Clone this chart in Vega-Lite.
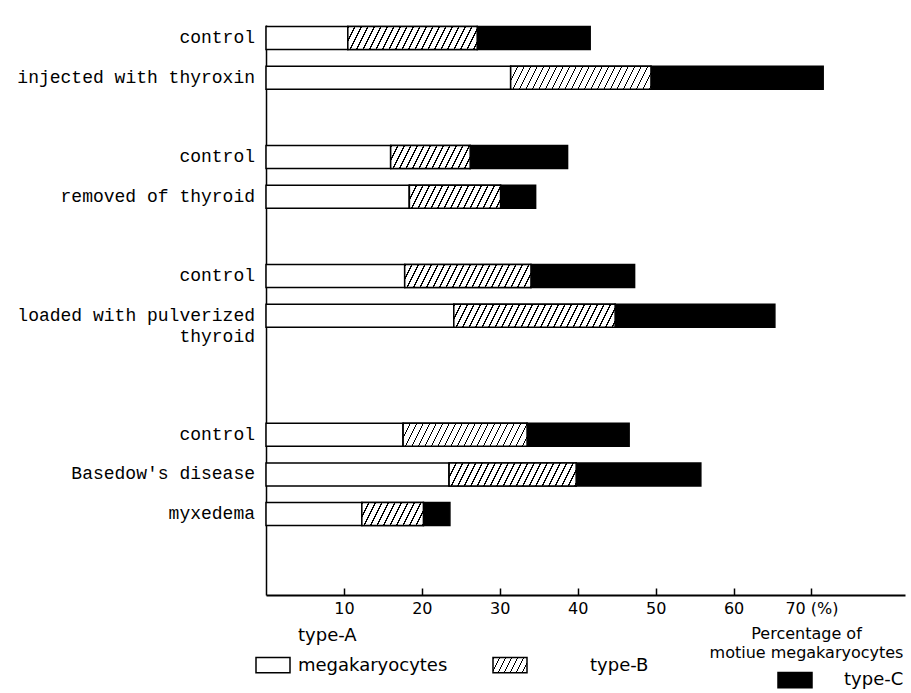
{
  "$schema": "https://vega.github.io/schema/vega-lite/v6.json",
  "width": 639,
  "height": 570,
  "autosize": {"type": "none"},
  "padding": {"left": 266, "top": 25, "right": 6, "bottom": 98},
  "background": "white",
  "config": {"view": {"stroke": null}, "font": "DejaVu Sans"},
  "params": [
    {"name": "hatch", "value": [
      {"offset": 0, "color": "black"}, {"offset": 0.006875, "color": "black"}, {"offset": 0.006875, "color": "white"}, {"offset": 0.03125, "color": "white"},
      {"offset": 0.03125, "color": "black"}, {"offset": 0.038125, "color": "black"}, {"offset": 0.038125, "color": "white"}, {"offset": 0.0625, "color": "white"},
      {"offset": 0.0625, "color": "black"}, {"offset": 0.069375, "color": "black"}, {"offset": 0.069375, "color": "white"}, {"offset": 0.09375, "color": "white"},
      {"offset": 0.09375, "color": "black"}, {"offset": 0.100625, "color": "black"}, {"offset": 0.100625, "color": "white"}, {"offset": 0.125, "color": "white"},
      {"offset": 0.125, "color": "black"}, {"offset": 0.131875, "color": "black"}, {"offset": 0.131875, "color": "white"}, {"offset": 0.15625, "color": "white"},
      {"offset": 0.15625, "color": "black"}, {"offset": 0.163125, "color": "black"}, {"offset": 0.163125, "color": "white"}, {"offset": 0.1875, "color": "white"},
      {"offset": 0.1875, "color": "black"}, {"offset": 0.194375, "color": "black"}, {"offset": 0.194375, "color": "white"}, {"offset": 0.21875, "color": "white"},
      {"offset": 0.21875, "color": "black"}, {"offset": 0.225625, "color": "black"}, {"offset": 0.225625, "color": "white"}, {"offset": 0.25, "color": "white"},
      {"offset": 0.25, "color": "black"}, {"offset": 0.256875, "color": "black"}, {"offset": 0.256875, "color": "white"}, {"offset": 0.28125, "color": "white"},
      {"offset": 0.28125, "color": "black"}, {"offset": 0.288125, "color": "black"}, {"offset": 0.288125, "color": "white"}, {"offset": 0.3125, "color": "white"},
      {"offset": 0.3125, "color": "black"}, {"offset": 0.319375, "color": "black"}, {"offset": 0.319375, "color": "white"}, {"offset": 0.34375, "color": "white"},
      {"offset": 0.34375, "color": "black"}, {"offset": 0.350625, "color": "black"}, {"offset": 0.350625, "color": "white"}, {"offset": 0.375, "color": "white"},
      {"offset": 0.375, "color": "black"}, {"offset": 0.381875, "color": "black"}, {"offset": 0.381875, "color": "white"}, {"offset": 0.40625, "color": "white"},
      {"offset": 0.40625, "color": "black"}, {"offset": 0.413125, "color": "black"}, {"offset": 0.413125, "color": "white"}, {"offset": 0.4375, "color": "white"},
      {"offset": 0.4375, "color": "black"}, {"offset": 0.444375, "color": "black"}, {"offset": 0.444375, "color": "white"}, {"offset": 0.46875, "color": "white"},
      {"offset": 0.46875, "color": "black"}, {"offset": 0.475625, "color": "black"}, {"offset": 0.475625, "color": "white"}, {"offset": 0.5, "color": "white"},
      {"offset": 0.5, "color": "black"}, {"offset": 0.506875, "color": "black"}, {"offset": 0.506875, "color": "white"}, {"offset": 0.53125, "color": "white"},
      {"offset": 0.53125, "color": "black"}, {"offset": 0.538125, "color": "black"}, {"offset": 0.538125, "color": "white"}, {"offset": 0.5625, "color": "white"},
      {"offset": 0.5625, "color": "black"}, {"offset": 0.569375, "color": "black"}, {"offset": 0.569375, "color": "white"}, {"offset": 0.59375, "color": "white"},
      {"offset": 0.59375, "color": "black"}, {"offset": 0.600625, "color": "black"}, {"offset": 0.600625, "color": "white"}, {"offset": 0.625, "color": "white"},
      {"offset": 0.625, "color": "black"}, {"offset": 0.631875, "color": "black"}, {"offset": 0.631875, "color": "white"}, {"offset": 0.65625, "color": "white"},
      {"offset": 0.65625, "color": "black"}, {"offset": 0.663125, "color": "black"}, {"offset": 0.663125, "color": "white"}, {"offset": 0.6875, "color": "white"},
      {"offset": 0.6875, "color": "black"}, {"offset": 0.694375, "color": "black"}, {"offset": 0.694375, "color": "white"}, {"offset": 0.71875, "color": "white"},
      {"offset": 0.71875, "color": "black"}, {"offset": 0.725625, "color": "black"}, {"offset": 0.725625, "color": "white"}, {"offset": 0.75, "color": "white"},
      {"offset": 0.75, "color": "black"}, {"offset": 0.756875, "color": "black"}, {"offset": 0.756875, "color": "white"}, {"offset": 0.78125, "color": "white"},
      {"offset": 0.78125, "color": "black"}, {"offset": 0.788125, "color": "black"}, {"offset": 0.788125, "color": "white"}, {"offset": 0.8125, "color": "white"},
      {"offset": 0.8125, "color": "black"}, {"offset": 0.819375, "color": "black"}, {"offset": 0.819375, "color": "white"}, {"offset": 0.84375, "color": "white"},
      {"offset": 0.84375, "color": "black"}, {"offset": 0.850625, "color": "black"}, {"offset": 0.850625, "color": "white"}, {"offset": 0.875, "color": "white"},
      {"offset": 0.875, "color": "black"}, {"offset": 0.881875, "color": "black"}, {"offset": 0.881875, "color": "white"}, {"offset": 0.90625, "color": "white"},
      {"offset": 0.90625, "color": "black"}, {"offset": 0.913125, "color": "black"}, {"offset": 0.913125, "color": "white"}, {"offset": 0.9375, "color": "white"},
      {"offset": 0.9375, "color": "black"}, {"offset": 0.944375, "color": "black"}, {"offset": 0.944375, "color": "white"}, {"offset": 0.96875, "color": "white"},
      {"offset": 0.96875, "color": "black"}, {"offset": 0.975625, "color": "black"}, {"offset": 0.975625, "color": "white"}, {"offset": 1, "color": "white"}
    ]},
    {"name": "legendHatch", "value": {"gradient": "linear", "x1": 0, "y1": 0, "x2": 1.344, "y2": 0.302, "stops": [
      {"offset": 0, "color": "black"}, {"offset": 0.0275, "color": "black"}, {"offset": 0.0275, "color": "white"}, {"offset": 0.125, "color": "white"},
      {"offset": 0.125, "color": "black"}, {"offset": 0.1525, "color": "black"}, {"offset": 0.1525, "color": "white"}, {"offset": 0.25, "color": "white"},
      {"offset": 0.25, "color": "black"}, {"offset": 0.2775, "color": "black"}, {"offset": 0.2775, "color": "white"}, {"offset": 0.375, "color": "white"},
      {"offset": 0.375, "color": "black"}, {"offset": 0.4025, "color": "black"}, {"offset": 0.4025, "color": "white"}, {"offset": 0.5, "color": "white"},
      {"offset": 0.5, "color": "black"}, {"offset": 0.5275, "color": "black"}, {"offset": 0.5275, "color": "white"}, {"offset": 0.625, "color": "white"},
      {"offset": 0.625, "color": "black"}, {"offset": 0.6525, "color": "black"}, {"offset": 0.6525, "color": "white"}, {"offset": 0.75, "color": "white"},
      {"offset": 0.75, "color": "black"}, {"offset": 0.7775, "color": "black"}, {"offset": 0.7775, "color": "white"}, {"offset": 0.875, "color": "white"},
      {"offset": 0.875, "color": "black"}, {"offset": 0.9025, "color": "black"}, {"offset": 0.9025, "color": "white"}, {"offset": 1, "color": "white"}
    ]}}
  ],
  "data": {"values": [
    {"id": "c1", "label": "control", "type": "type-A megakaryocytes", "value": 10.5},
    {"id": "c1", "label": "control", "type": "type-B", "value": 16.6},
    {"id": "c1", "label": "control", "type": "type-C", "value": 14.5},
    {"id": "thyroxin", "label": "injected with thyroxin", "type": "type-A megakaryocytes", "value": 31.4},
    {"id": "thyroxin", "label": "injected with thyroxin", "type": "type-B", "value": 18.0},
    {"id": "thyroxin", "label": "injected with thyroxin", "type": "type-C", "value": 22.1},
    {"id": "c2", "label": "control", "type": "type-A megakaryocytes", "value": 16.0},
    {"id": "c2", "label": "control", "type": "type-B", "value": 10.2},
    {"id": "c2", "label": "control", "type": "type-C", "value": 12.5},
    {"id": "removed", "label": "removed of thyroid", "type": "type-A megakaryocytes", "value": 18.4},
    {"id": "removed", "label": "removed of thyroid", "type": "type-B", "value": 11.7},
    {"id": "removed", "label": "removed of thyroid", "type": "type-C", "value": 4.5},
    {"id": "c3", "label": "control", "type": "type-A megakaryocytes", "value": 17.8},
    {"id": "c3", "label": "control", "type": "type-B", "value": 16.2},
    {"id": "c3", "label": "control", "type": "type-C", "value": 13.3},
    {"id": "loaded", "label": "loaded with pulverized\nthyroid", "type": "type-A megakaryocytes", "value": 24.1},
    {"id": "loaded", "label": "loaded with pulverized\nthyroid", "type": "type-B", "value": 20.7},
    {"id": "loaded", "label": "loaded with pulverized\nthyroid", "type": "type-C", "value": 20.5},
    {"id": "c4", "label": "control", "type": "type-A megakaryocytes", "value": 17.6},
    {"id": "c4", "label": "control", "type": "type-B", "value": 15.9},
    {"id": "c4", "label": "control", "type": "type-C", "value": 13.1},
    {"id": "basedow", "label": "Basedow's disease", "type": "type-A megakaryocytes", "value": 23.5},
    {"id": "basedow", "label": "Basedow's disease", "type": "type-B", "value": 16.3},
    {"id": "basedow", "label": "Basedow's disease", "type": "type-C", "value": 16.0},
    {"id": "myxedema", "label": "myxedema", "type": "type-A megakaryocytes", "value": 12.3},
    {"id": "myxedema", "label": "myxedema", "type": "type-B", "value": 7.9},
    {"id": "myxedema", "label": "myxedema", "type": "type-C", "value": 3.4}
  ]},
  "transform": [
    {"stack": "value", "groupby": ["id"], "sort": [{"field": "type", "order": "ascending"}], "as": ["start", "end"]}
  ],
  "layer": [
    {
      "mark": {"type": "bar", "stroke": "black", "strokeWidth": 1.5},
      "encoding": {
        "y": {
          "field": "id", "type": "nominal",
          "scale": {"domain": ["c1", "thyroxin", "s1", "c2", "removed", "s2", "c3", "loaded", "s3", "s4", "c4", "basedow", "myxedema", "s5"], "paddingInner": 0.42, "paddingOuter": 0.395, "align": 0.05},
          "axis": {"title": null, "labels": false, "ticks": false, "grid": false, "domainColor": "black", "domainWidth": 1.5}
        },
        "x": {
          "field": "start", "type": "quantitative",
          "scale": {"domain": [0, 82], "nice": false},
          "axis": {
            "values": [10, 20, 30, 40, 50, 60, 70],
            "grid": false,
            "domainColor": "black", "domainWidth": 2,
            "tickColor": "black", "tickSize": -7, "tickWidth": 1.5,
            "labelPadding": 12,
            "labelFont": "DejaVu Sans", "labelFontSize": 16, "labelColor": "black",
            "labelExpr": "datum.value === 70 ? '70 (%)' : datum.label",
            "title": ["Percentage of", "motiue megakaryocytes"],
            "titleFont": "DejaVu Sans", "titleFontSize": 16, "titleFontWeight": "normal", "titleColor": "black",
            "titleAlign": "center", "titleBaseline": "top", "titleX": 540, "titleY": 30, "titleLineHeight": 19,
            "encode": {"labels": {"update": {"align": {"signal": "datum.value === 70 ? 'left' : 'center'"}, "dx": {"signal": "datum.value === 70 ? -10 : 0"}}}}
          }
        },
        "x2": {"field": "end"},
        "fill": {
          "field": "type", "type": "nominal",
          "scale": {
            "domain": ["type-A megakaryocytes", "type-B", "type-C"],
            "range": ["white", {"expr": "legendHatch"}, "black"]
          },
          "legend": {
            "orient": "none", "legendX": -10, "legendY": 608,
            "direction": "horizontal", "columns": 3, "title": null,
            "symbolType": "M-1,-0.45H1V0.45H-1Z", "symbolSize": 1156,
            "symbolStrokeColor": "black", "symbolStrokeWidth": 1.5,
            "labelFont": "DejaVu Sans", "labelFontSize": 18, "labelColor": "black", "labelLimit": 300,
            "labelExpr": "split(datum.label, ' ')", "labelOffset": 6,
            "columnPadding": 42, "gridAlign": "all",
            "encode": {
              "labels": {"update": {
                "dy": {"signal": "datum.value === 'type-A megakaryocytes' ? -30 : (datum.value === 'type-C' ? 29 : 0)"},
                "dx": {"signal": "datum.value === 'type-A megakaryocytes' ? 0 : (datum.value === 'type-B' ? 55 : 72)"},
                "lineHeight": {"value": 30}
              }},
              "symbols": {"update": {
                "x": {"signal": "datum.value === 'type-C' ? 65 : 17"},
                "y": {"signal": "datum.value === 'type-C' ? 47 : 17"}
              }}
            }
          }
        }
      }
    },
    {
      "transform": [{"filter": "datum.type === 'type-B'"}],
      "mark": {
        "type": "bar", "stroke": "black", "strokeWidth": 1.5,
        "fill": {"expr": "{gradient: 'linear', x1: 0, y1: 0, x2: 208*datum.value*7.793/(pow(datum.value*7.793, 2) + 132.25), y2: 2392/(pow(datum.value*7.793, 2) + 132.25), stops: hatch}"}
      },
      "encoding": {
        "y": {"field": "id", "type": "nominal"},
        "x": {"field": "start", "type": "quantitative"},
        "x2": {"field": "end"}
      }
    },
    {
      "transform": [{"filter": "datum.type === 'type-A megakaryocytes'"}],
      "mark": {"type": "text", "align": "right", "baseline": "top", "dx": -11, "dy": -9, "font": "Liberation Mono", "fontSize": 18, "lineBreak": "\n", "lineHeight": 21, "color": "black"},
      "encoding": {
        "y": {"field": "id", "type": "nominal"},
        "x": {"datum": 0, "type": "quantitative"},
        "text": {"field": "label"}
      }
    }
  ]
}
